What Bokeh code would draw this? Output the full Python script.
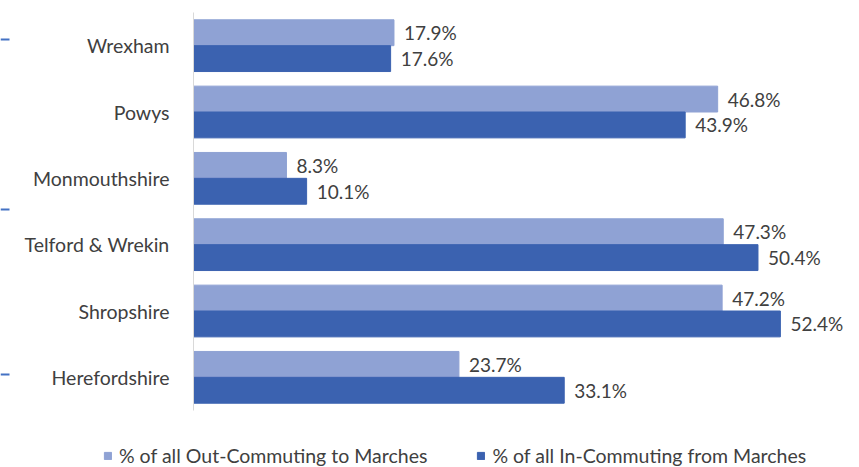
from bokeh.plotting import figure
from bokeh.models import ColumnDataSource, Range1d, Legend, LegendItem, BoxAnnotation, FixedTicker
from bokeh.transform import dodge
from bokeh.core.properties import value
from bokeh.embed import file_html
from bokeh.resources import INLINE

categories = ["Wrexham", "Powys", "Monmouthshire", "Telford & Wrekin", "Shropshire", "Herefordshire"]
out_commuting = [17.9, 46.8, 8.3, 47.3, 47.2, 23.7]
in_commuting = [17.6, 43.9, 10.1, 50.4, 52.4, 33.1]
series_names = ["% of all Out-Commuting to Marches", "% of all In-Commuting from Marches"]

LIGHT = "#8FA2D4"
DARK = "#3B62B0"
TEXT = "#404040"
FONT = "Lato"
FS = "19px"

n = len(categories)
ypos = [n - 0.5 - i for i in range(n)]  # category slots, top to bottom

src = ColumnDataSource(dict(
    y=ypos,
    out=out_commuting,
    inn=in_commuting,
    out_lbl=[f"{v:.1f}%" for v in out_commuting],
    in_lbl=[f"{v:.1f}%" for v in in_commuting],
))

# layout (pixels)
W, H = 859, 467
axis_x = 193          # screen x of the value axis
top_px = 12           # screen y of top of category area
band_px = 398 / n     # pixels per category
px_per_unit = 11.2    # pixels per percentage point

p = figure(width=W, height=H, output_backend="svg", toolbar_location=None,
           x_range=Range1d(-axis_x / px_per_unit, (W - axis_x) / px_per_unit),
           y_range=Range1d(n - (H - top_px) / band_px, n + top_px / band_px))
p.min_border = 0
p.outline_line_color = None
p.xgrid.visible = False
p.ygrid.visible = False
p.xaxis.visible = False

bh = 0.39
r1 = p.hbar(y=dodge("y", 0.195), right="out", left=0, height=bh,
            source=src, fill_color=LIGHT, line_color=LIGHT)
r2 = p.hbar(y=dodge("y", -0.195), right="inn", left=0, height=bh,
            source=src, fill_color=DARK, line_color=DARK)

p.text(x=dodge("out", 0.9), y=dodge("y", 0.195), text="out_lbl", source=src,
       text_font=value(FONT), text_font_size=FS, text_color=TEXT, text_baseline="middle")
p.text(x=dodge("inn", 0.9), y=dodge("y", -0.195), text="in_lbl", source=src,
       text_font=value(FONT), text_font_size=FS, text_color=TEXT, text_baseline="middle")

ax = p.yaxis[0]
ax.fixed_location = 0
ax.bounds = (0, n)
ax.ticker = FixedTicker(ticks=ypos)
ax.major_label_overrides = {y: c for y, c in zip(ypos, categories)}
ax.axis_line_color = "#D9D9D9"
ax.axis_line_width = 1
ax.major_tick_line_color = None
ax.minor_tick_line_color = None
ax.major_label_text_font = FONT
ax.major_label_text_font_size = "19.5px"
ax.major_label_text_color = TEXT
ax.major_label_standoff = 18

# small blue marks at the far left edge (cropped remnants in the original image)
for yy in (39, 209, 374):
    yb = H - yy
    p.add_layout(BoxAnnotation(left=0, right=9, top=yb + 1, bottom=yb - 1,
                               left_units="screen", right_units="screen",
                               top_units="screen", bottom_units="screen",
                               fill_color="#4472C4", fill_alpha=1, line_color=None,
                               editable=False))

legend = Legend(items=[LegendItem(label=series_names[0], renderers=[r1]),
                       LegendItem(label=series_names[1], renderers=[r2])],
                orientation="horizontal", location=(103, 0),
                label_text_font=FONT, label_text_font_size="19.5px", label_text_color=TEXT,
                glyph_width=9, glyph_height=9, spacing=49, border_line_color=None,
                background_fill_alpha=0, margin=0, padding=0, label_standoff=7)
p.add_layout(legend, "center")

open("out.html", "w").write(file_html(p, INLINE))
